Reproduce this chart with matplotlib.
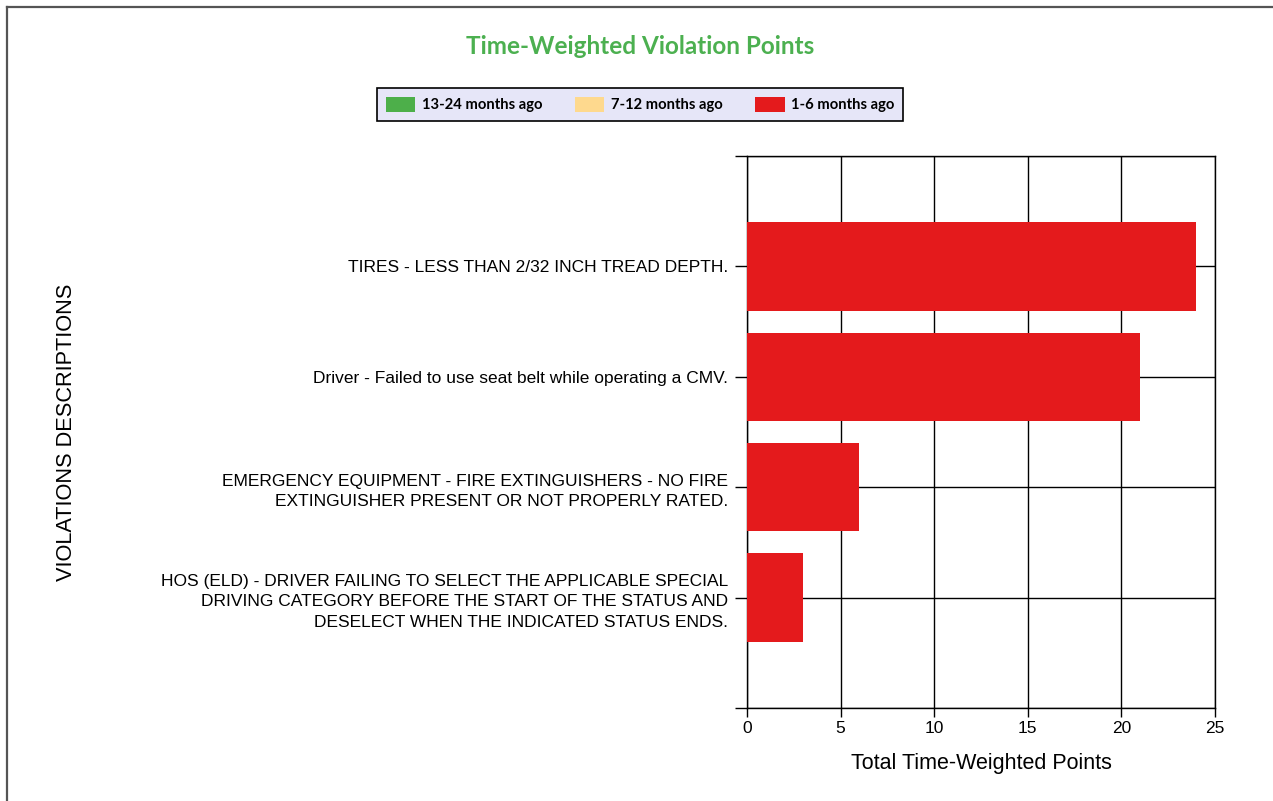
import matplotlib
matplotlib.use("Agg")
import matplotlib.pyplot as plt
from matplotlib.lines import Line2D
from matplotlib.patches import Patch
import numpy as np

# data
violations = ["TIRES - LESS THAN 2/32 INCH TREAD DEPTH.",
              "Driver - Failed to use seat belt while operating a CMV.",
              "EMERGENCY EQUIPMENT - FIRE EXTINGUISHERS - NO FIRE\nEXTINGUISHER PRESENT OR NOT PROPERLY RATED.",
              "HOS (ELD) - DRIVER FAILING TO SELECT THE APPLICABLE SPECIAL\nDRIVING CATEGORY BEFORE THE START OF THE STATUS AND\nDESELECT WHEN THE INDICATED STATUS ENDS."]
periods = ["13-24 months ago", "7-12 months ago", "1-6 months ago"]
pts_13_24 = [0, 0, 0, 0]
pts_7_12 = [0, 0, 0, 0]
pts_1_6 = [24, 21, 6, 3]
x_ticks = [0, 5, 10, 15, 20, 25]

COLORS = ["#4daf4a", "#fed98e", "#e41a1c"]
plt.rcParams["font.family"] = ["Liberation Sans", "DejaVu Sans"]

fig = plt.figure(figsize=(12.73, 8.01), dpi=100)
ax = fig.add_axes([747/1273, 1-708/801, 468/1273, 552/801])

y = np.arange(len(violations))
left = np.zeros(len(violations))
for vals, c, lab in zip([pts_13_24, pts_7_12, pts_1_6], COLORS, periods):
    ax.barh(y, vals, left=left, height=0.8, color=c, linewidth=0, label=lab, zorder=3)
    left += np.array(vals)

ax.set_xlim(0, 25)
ax.set_ylim(4, -1)
ax.set_xticks(x_ticks)
ax.set_yticks([-1, 0, 1, 2, 3, 4])
ax.set_yticklabels([""] + violations + [""], fontsize=12.5)
for t in ax.get_yticklabels():
    t.set_linespacing(1.45)
ax.tick_params(axis="y", length=8.6, width=1, color="black", pad=5)
ax.tick_params(axis="x", length=6.5, width=1, color="black", labelsize=12.5, pad=3)
ax.grid(True, color="black", linewidth=1, zorder=1)
for s in ax.spines.values():
    s.set_color("black"); s.set_linewidth(1)
ax.set_xlabel("Total Time-Weighted Points", fontsize=15.5, labelpad=12)

fig.text(67/1273, 1-432/801, "VIOLATIONS DESCRIPTIONS", rotation=90, ha="center", va="center", fontsize=15.7)
fig.text(0.503, 1-46/801, "Time-Weighted Violation Points", ha="center", va="center",
         fontsize=17.5, fontweight="bold", color="#4cb050", family=["Lato", "DejaVu Sans"])

handles = [Patch(facecolor=c, edgecolor="none") for c in COLORS]
leg = fig.legend(handles, periods, loc="center", bbox_to_anchor=(0.503, 1-104.5/801), ncol=3,
                 fancybox=False, edgecolor="black", facecolor="#e6e6f8", framealpha=1,
                 handlelength=2.0, handleheight=1.25, columnspacing=2.2, handletextpad=0.45,
                 borderpad=0.6, prop={"family": ["Lato", "DejaVu Sans"], "weight": "bold", "size": 10.6})
leg.get_frame().set_linewidth(1.2)

# page border (top and left)
fig.add_artist(Line2D([7/1273, 1], [1-7/801, 1-7/801], transform=fig.transFigure, color="#555555", lw=1.6))
fig.add_artist(Line2D([7/1273, 7/1273], [0, 1-7/801], transform=fig.transFigure, color="#555555", lw=1.6))

fig.savefig("out.png", dpi=100)
